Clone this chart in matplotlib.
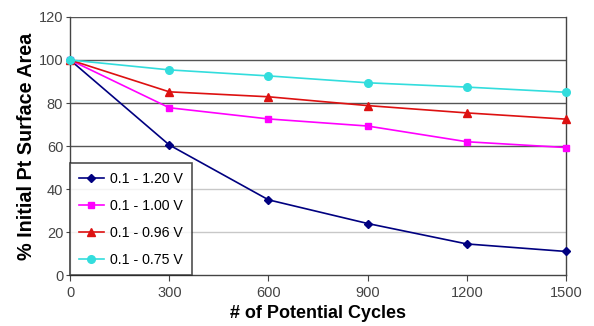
import matplotlib
matplotlib.use("Agg")
import matplotlib.pyplot as plt

plt.rcParams['font.family'] = ['Liberation Sans', 'DejaVu Sans']

cycles = [0, 300, 600, 900, 1200, 1500]
v120 = [100, 60.5, 35, 24, 14.5, 11]
v100 = [100, 77.8, 72.6, 69.3, 62, 59.3]
v096 = [100, 85.2, 82.9, 78.8, 75.4, 72.5]
v075 = [100, 95.4, 92.6, 89.4, 87.4, 85]
labels = ['0.1 - 1.20 V', '0.1 - 1.00 V', '0.1 - 0.96 V', '0.1 - 0.75 V']
yticks = [0, 20, 40, 60, 80, 100, 120]

fig = plt.figure(figsize=(5.94, 3.26), dpi=100)
ax = fig.add_axes([0.118, 0.156, 0.835, 0.792])

# horizontal grid
for y in yticks[1:]:
    c = '#555555' if y >= 60 else '#c8c8c8'
    ax.axhline(y, color=c, lw=1.0, zorder=1)

series = [
    (v120, '#000080', 'D', 4.5),
    (v100, '#ff00ff', 's', 5.0),
    (v096, '#dd1111', '^', 5.5),
    (v075, '#33dddd', 'o', 5.5),
]
for (vals, col, mk, ms), lab in zip(series, labels):
    ax.plot(cycles, vals, color=col, marker=mk, ms=ms, lw=1.2,
            label=lab, zorder=3, clip_on=False)

ax.set_xlim(0, 1500)
ax.set_ylim(0, 120)
ax.set_xticks(cycles)
ax.set_yticks(yticks)
ax.tick_params(axis='both', labelsize=10.5, colors='#444444', direction='out',
               length=4, width=0.8)
ax.tick_params(axis='y', length=3, pad=2)
for s in ['left', 'bottom', 'right']:
    ax.spines[s].set_color('#444444')
    ax.spines[s].set_linewidth(1.0)
ax.spines['top'].set_visible(False)

ax.set_xlabel('# of Potential Cycles', fontsize=13, fontweight='bold')
ax.set_ylabel('% Initial Pt Surface Area', fontsize=14.2, fontweight='bold')
ax.xaxis.label.set_va('center')
ax.yaxis.label.set_va('center')
ax.xaxis.set_label_coords(0.5, -0.147)
ax.yaxis.set_label_coords(-0.087, 0.5)

leg = ax.legend(loc='lower left', bbox_to_anchor=(0.0, 0.0), fontsize=10.2,
                frameon=True, fancybox=False, edgecolor='#222222',
                borderpad=0.6, labelspacing=0.92, handlelength=1.8,
                handletextpad=0.45, borderaxespad=0.0)
leg.get_frame().set_linewidth(1.2)
leg.set_zorder(5)

fig.savefig('out.png', dpi=100)
